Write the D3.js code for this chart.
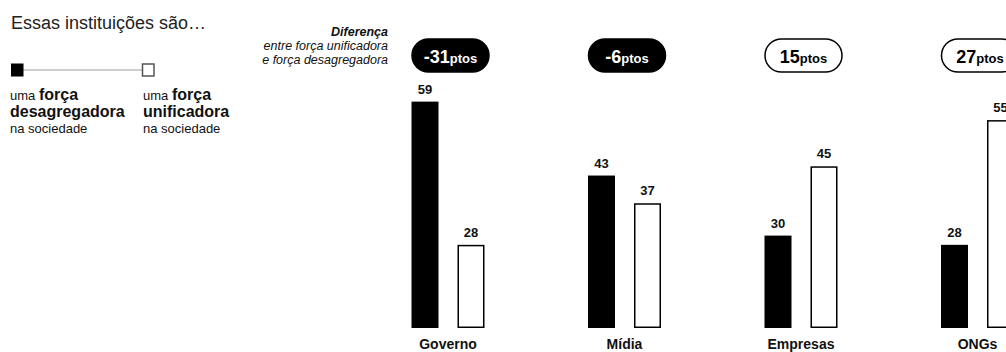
<!DOCTYPE html>
<html>
<head>
<meta charset="utf-8">
<script src="https://cdn.jsdelivr.net/npm/d3@7"></script>
<style>
    body { margin: 0; background: #fff; }
    svg { display: block; font-family: "Liberation Sans", Arial, sans-serif; }
</style>
</head>
<body>
<svg id="chart" width="1006" height="352"></svg>
<script>
// data
let categories = ["Governo", "Mídia", "Empresas", "ONGs"],
    series = ["desagregadora", "unificadora"],
    desagregadora = [59, 43, 30, 28],
    unificadora = [28, 37, 45, 55],
    diferenca = [-31, -6, 15, 27];

let rows = categories.map((c, i) => ({
    cat: c,
    values: [
        {key: "desagregadora", value: desagregadora[i]},
        {key: "unificadora", value: unificadora[i]}
    ],
    diff: diferenca[i]
}));

let svg = d3.select("#chart");

// scales
let x = d3.scaleBand().domain(categories).range([359.75, 1065.75]).padding(0),
    groupW = 73,
    x_sub = d3.scaleBand().domain(series).range([0, groupW]).paddingInner(0.413).paddingOuter(0),
    y = d3.scaleLinear().domain([10, 60]).range([328, 97]);

let center = c => x(c) + x.bandwidth() / 2;

// *** Title + legend
svg.append("text")
    .attr("x", 11)
    .attr("y", 29)
    .attr("font-size", 18)
    .attr("fill", "#222")
    .text("Essas instituições são…");

svg.append("line")
    .attr("x1", 23).attr("x2", 142)
    .attr("y1", 70).attr("y2", 70)
    .attr("stroke", "#cfcfcf")
    .attr("stroke-width", 2);
svg.append("rect")
    .attr("x", 11).attr("y", 63.5)
    .attr("width", 12.5).attr("height", 13)
    .attr("fill", "#000");
svg.append("rect")
    .attr("x", 142.5).attr("y", 64)
    .attr("width", 11.5).attr("height", 12)
    .attr("fill", "#fff")
    .attr("stroke", "#555")
    .attr("stroke-width", 1.5);

let legendCols = [
    {x: 10, word: "desagregadora"},
    {x: 143, word: "unificadora"}
];
legendCols.forEach(col => {
    let t = svg.append("text").attr("x", col.x).attr("y", 99.5).attr("fill", "#111");
    t.append("tspan").attr("font-size", 13).text("uma ");
    t.append("tspan").attr("font-size", 16).attr("font-weight", "bold").text("força");
    svg.append("text")
        .attr("x", col.x).attr("y", 116.5)
        .attr("font-size", 16).attr("font-weight", "bold")
        .attr("fill", "#111")
        .text(col.word);
    svg.append("text")
        .attr("x", col.x).attr("y", 133)
        .attr("font-size", 13)
        .attr("fill", "#111")
        .text("na sociedade");
});

// *** Diferença note
let note = svg.append("text")
    .attr("text-anchor", "end")
    .attr("font-style", "italic")
    .attr("font-size", 12.5)
    .attr("fill", "#111");
note.append("tspan").attr("x", 388).attr("y", 36).attr("font-weight", "bold").text("Diferença");
note.append("tspan").attr("x", 388).attr("y", 50).text("entre força unificadora");
note.append("tspan").attr("x", 388).attr("y", 63.5).text("e força desagregadora");

// *** Pills
let pills = svg.append("g").attr("class", "pills")
    .selectAll("g.pill")
    .data(rows)
    .enter().append("g")
    .attr("class", "pill")
    .attr("transform", d => "translate(" + (center(d.cat) + 2.5) + ",0)");
pills.append("rect")
    .attr("x", -38.5)
    .attr("y", 39)
    .attr("width", 77)
    .attr("height", 33)
    .attr("rx", 16.5)
    .attr("fill", d => d.diff < 0 ? "#000" : "#fff")
    .attr("stroke", "#000")
    .attr("stroke-width", 1.5);
let pillText = pills.append("text")
    .attr("text-anchor", "middle")
    .attr("y", 63)
    .attr("font-weight", "bold")
    .attr("fill", d => d.diff < 0 ? "#fff" : "#000");
pillText.append("tspan").attr("font-size", 18).text(d => d.diff);
pillText.append("tspan").attr("font-size", 13).text("ptos");

// *** Bars
let groups = svg.append("g").attr("class", "bars")
    .selectAll("g.group")
    .data(rows)
    .enter().append("g")
    .attr("class", "group")
    .attr("transform", d => "translate(" + (center(d.cat) - groupW / 2) + ",0)");

groups.selectAll("rect.bar")
    .data(d => d.values)
    .enter().append("rect")
    .attr("class", "bar")
    .attr("x", d => x_sub(d.key) + (d.key === "unificadora" ? 0.75 : 0))
    .attr("y", d => y(d.value) + (d.key === "unificadora" ? 0.75 : 0))
    .attr("width", d => x_sub.bandwidth() - (d.key === "unificadora" ? 1.5 : 0))
    .attr("height", d => y(10) - y(d.value) - (d.key === "unificadora" ? 1.5 : 0))
    .attr("fill", d => d.key === "desagregadora" ? "#000" : "#fff")
    .attr("stroke", d => d.key === "unificadora" ? "#000" : "none")
    .attr("stroke-width", 1.5);

groups.selectAll("text.val")
    .data(d => d.values)
    .enter().append("text")
    .attr("class", "val")
    .attr("x", d => x_sub(d.key) + x_sub.bandwidth() / 2)
    .attr("y", d => y(d.value) - 8)
    .attr("text-anchor", "middle")
    .attr("font-size", 13)
    .attr("font-weight", "bold")
    .attr("fill", "#111")
    .text(d => d.value);

// *** Category labels
svg.append("g").attr("class", "cats")
    .selectAll("text")
    .data(categories)
    .enter().append("text")
    .attr("x", d => center(d))
    .attr("y", 349)
    .attr("text-anchor", "middle")
    .attr("font-size", 14)
    .attr("font-weight", "bold")
    .attr("fill", "#111")
    .text(d => d);
</script>
</body>
</html>
